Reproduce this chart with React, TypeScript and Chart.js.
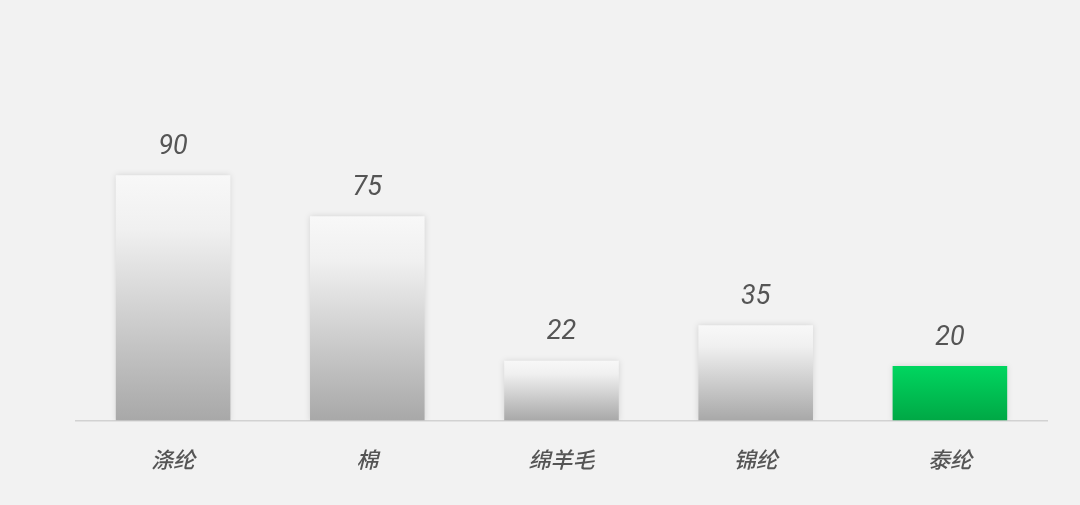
import { useEffect, useRef } from 'react';
import { Chart, registerables, Plugin } from 'chart.js';

Chart.register(...registerables);

const categories = ['涤纶', '棉', '绵羊毛', '锦纶', '泰纶'];
const values = [90, 75, 22, 35, 20];
const highlightIndex = 4;

// value labels above each bar
const valueLabels: Plugin<'bar'> = {
  id: 'valueLabels',
  afterDatasetsDraw(chart) {
    const ctx = chart.ctx;
    const meta = chart.getDatasetMeta(0);
    ctx.save();
    ctx.font = 'italic 400 27px Roboto';
    ctx.fillStyle = '#555555';
    ctx.textAlign = 'center';
    ctx.textBaseline = 'middle';
    meta.data.forEach((bar, i) => {
      const { x, y } = bar.getProps(['x', 'y'], true) as { x: number; y: number };
      ctx.fillText(String(values[i]), x, y - 28);
    });
    ctx.restore();
  },
};

const barShadow: Plugin<'bar'> = {
  id: 'barShadow',
  beforeDatasetDraw(chart) {
    const ctx = chart.ctx;
    ctx.save();
    ctx.shadowColor = 'rgba(0,0,0,0.12)';
    ctx.shadowBlur = 6;
    ctx.shadowOffsetX = 0;
    ctx.shadowOffsetY = 0;
  },
  afterDatasetDraw(chart) {
    chart.ctx.restore();
  },
};

const App: React.FC = () => {
  const chartRef = useRef<HTMLCanvasElement>(null);

  useEffect(() => {
    if (!chartRef.current) return;
    const chart = new Chart(chartRef.current, {
      type: 'bar',
      data: {
        labels: categories,
        datasets: [
          {
            data: values,
            borderWidth: 0,
            categoryPercentage: 1,
            barPercentage: 0.59,
            backgroundColor: (context) => {
              const { chart, dataIndex } = context;
              const area = chart.chartArea;
              const yScale = chart.scales.y;
              if (!area || !yScale) return '#cccccc';
              const top = yScale.getPixelForValue(values[dataIndex]);
              const base = yScale.getPixelForValue(0);
              const g = chart.ctx.createLinearGradient(0, top, 0, base);
              if (dataIndex === highlightIndex) {
                g.addColorStop(0, '#00d660');
                g.addColorStop(1, '#00a845');
              } else {
                g.addColorStop(0, '#f8f8f8');
                g.addColorStop(0.22, '#f0f0f0');
                g.addColorStop(1, '#a8a8a8');
              }
              return g;
            },
          },
        ],
      },
      options: {
        animation: false,
        responsive: true,
        maintainAspectRatio: false,
        layout: { padding: { top: 148, left: 76, right: 33, bottom: 6 } },
        plugins: {
          legend: { display: false },
          tooltip: { enabled: false },
        },
        scales: {
          x: {
            grid: { display: false, drawTicks: false },
            border: { display: true, color: '#d2d2d2', width: 1.5 },
            ticks: {
              padding: 26,
              color: '#555555',
              font: { family: '"Noto Sans CJK SC"', size: 22, weight: 500, style: 'italic' },
            },
          },
          y: {
            display: false,
            min: 0,
            max: 100,
          },
        },
      },
      plugins: [barShadow, valueLabels],
    });
    return () => chart.destroy();
  }, []);

  return (
    <div style={{ position: 'fixed', inset: 0, background: '#f2f2f2' }}>
      <canvas ref={chartRef}></canvas>
    </div>
  );
};

export default App;
